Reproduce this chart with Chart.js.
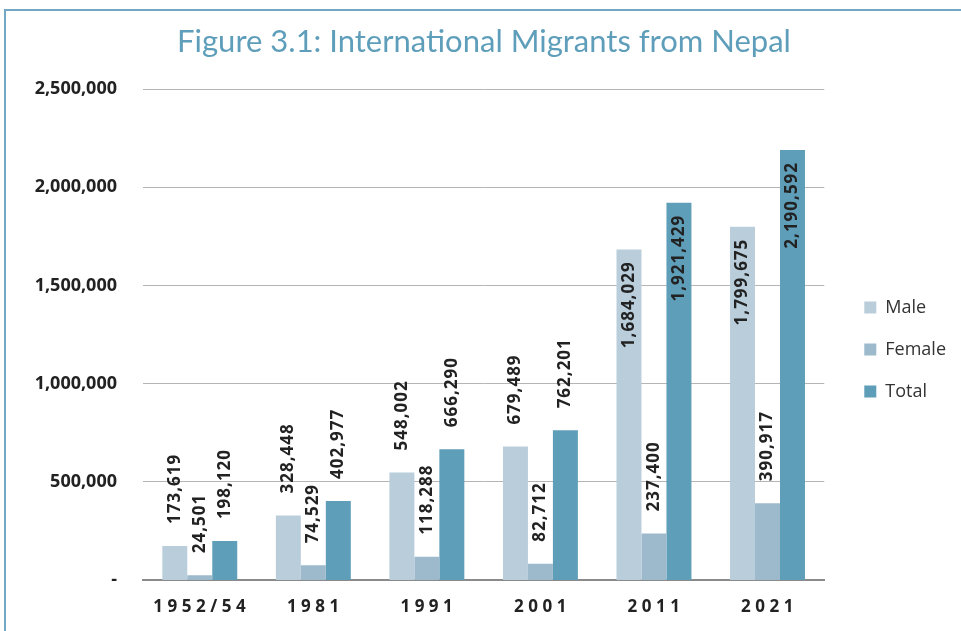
<!DOCTYPE html>
<html>
<head>
<meta charset="utf-8">
<script src="https://cdn.jsdelivr.net/npm/chart.js@4"></script>
<style>
  body { margin: 0; background: #fff; }
  #frame { position: absolute; left: 4px; top: 9px; right: 0; bottom: 0;
           border-top: 2px solid #72a8c3; border-left: 2px solid #72a8c3; }
  #migrantChart { position: absolute; left: 0; top: 0; }
</style>
</head>
<body>
<div id="frame"></div>
<canvas id="migrantChart" width="961" height="631"></canvas>
<script>
var years = ['1952/54', '1981', '1991', '2001', '2011', '2021'];
var male = [173619, 328448, 548002, 679489, 1684029, 1799675];
var female = [24501, 74529, 118288, 82712, 237400, 390917];
var total = [198120, 402977, 666290, 762201, 1921429, 2190592];
var yTicks = [0, 500000, 1000000, 1500000, 2000000, 2500000];

function fmt(v) {
    return v.toLocaleString('en-US');
}

// numbers standing on the bars, turned on their side
var barLabels = {
    id: 'barLabels',
    afterDatasetsDraw: function(chart) {
        var ctx = chart.ctx;
        ctx.save();
        ctx.font = 'bold 17px "Open Sans"';
        ctx.fillStyle = '#222';
        ctx.letterSpacing = '1px';
        ctx.textBaseline = 'middle';
        chart.data.datasets.forEach(function(ds, d) {
            chart.getDatasetMeta(d).data.forEach(function(bar, i) {
                var v = ds.data[i];
                ctx.save();
                if (v > 1500000) {
                    ctx.translate(bar.x, bar.y + 12);
                    ctx.rotate(-Math.PI / 2);
                    ctx.textAlign = 'right';
                } else {
                    ctx.translate(bar.x, bar.y - 22);
                    ctx.rotate(-Math.PI / 2);
                    ctx.textAlign = 'left';
                }
                ctx.fillText(fmt(v), 0, 0);
                ctx.restore();
            });
        });
        ctx.restore();
    }
};

// category names under the axis, widely spaced
var yearLabels = {
    id: 'yearLabels',
    afterDraw: function(chart) {
        var ctx = chart.ctx;
        var xs = chart.scales.x;
        ctx.save();
        ctx.font = 'bold 17px "Open Sans"';
        ctx.fillStyle = '#222';
        ctx.letterSpacing = '4.5px';
        ctx.textAlign = 'center';
        ctx.textBaseline = 'middle';
        years.forEach(function(y, i) {
            ctx.fillText(y, xs.getPixelForTick(i) + 2, xs.top + 27);
        });
        ctx.restore();
    }
};

var config = {
    type: 'bar',
    data: {
        labels: years,
        datasets: [
            { label: 'Male', data: male, backgroundColor: '#b9cddb' },
            { label: 'Female', data: female, backgroundColor: '#9cbacb' },
            { label: 'Total', data: total, backgroundColor: '#5f9eb8' }
        ]
    },
    options: {
        responsive: false,
        animation: false,
        layout: { padding: { left: 12, right: 5, top: 0, bottom: 0 } },
        datasets: { bar: { categoryPercentage: 0.66, barPercentage: 1 } },
        scales: {
            x: {
                grid: { display: false },
                border: { display: true, color: '#8a8a8a', width: 2 },
                ticks: { display: false },
                afterFit: function(s) { s.height = 51; }
            },
            y: {
                min: 0,
                max: 2500000,
                afterBuildTicks: function(s) {
                    s.ticks = yTicks.map(function(v) { return { value: v }; });
                },
                grid: {
                    drawTicks: false,
                    color: '#b5b5b5',
                    lineWidth: function(c) { return c.tick && c.tick.value === 0 ? 0 : 1; }
                },
                border: { display: false },
                ticks: {
                    padding: 26,
                    color: '#222',
                    font: { family: 'Open Sans', weight: 'bold', size: 18 },
                    callback: function(v) { return v === 0 ? '-' : fmt(v); }
                },
                afterFit: function(s) { s.width = 131; }
            },
            gap: {
                position: 'right',
                display: true,
                grid: { display: false },
                border: { display: false },
                ticks: { display: false },
                afterFit: function(s) { s.width = 16; }
            }
        },
        plugins: {
            title: {
                display: true,
                text: 'Figure 3.1: International Migrants from Nepal',
                color: '#5e9eba',
                font: { family: 'Lato', weight: 'normal', size: 31 },
                padding: { top: 23, bottom: 29 }
            },
            legend: {
                position: 'right',
                title: { display: true, text: '', font: { size: 10 }, padding: { top: 56 } },
                labels: {
                    boxWidth: 12,
                    boxHeight: 12,
                    padding: 24,
                    color: '#333',
                    font: { family: 'Open Sans', size: 18 }
                }
            },
            tooltip: { enabled: false }
        }
    },
    plugins: [barLabels, yearLabels]
};

var migrantChart = new Chart(document.getElementById('migrantChart'), config);
</script>
</body>
</html>
